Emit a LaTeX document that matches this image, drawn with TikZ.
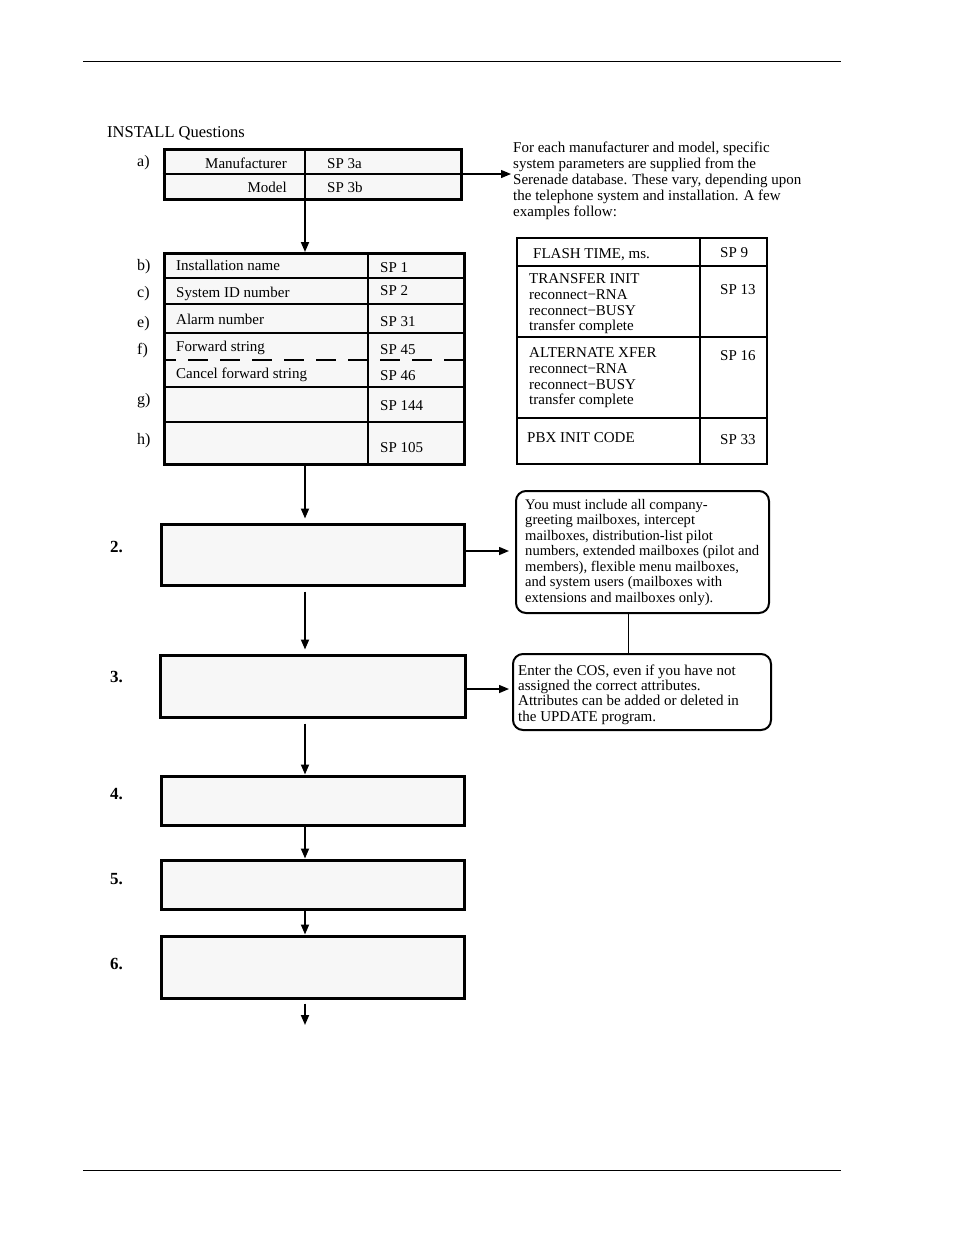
\documentclass[tikz,border=0pt]{standalone}
\usepackage{fontspec}
\setmainfont{Liberation Serif}
\usetikzlibrary{arrows.meta}
\definecolor{boxgray}{HTML}{F7F7F7}
\begin{document}
\begin{tikzpicture}[x=1pt,y=-1pt,
  every node/.style={font=\fontsize{15}{15.7}\selectfont, inner sep=0pt},
  bigbox/.style={draw, line width=3pt, fill=boxgray, minimum width=#1},
  arr/.style={-{Triangle[length=10pt,width=8pt]}, line width=1.8pt},
  lbl/.style={anchor=west, text height=10pt, text depth=3pt, yshift=-2.5pt},
  rlbl/.style={anchor=east, text height=10pt, text depth=3pt, yshift=-2.5pt},
  steplbl/.style={anchor=west, yshift=-2pt, font=\fontsize{17}{19}\bfseries\selectfont},
  note/.style={draw, line width=2pt, rounded corners=10pt, fill=white},
  para/.style={anchor=north west, align=left}
]
\useasboundingbox (0,0) rectangle (954,1235);
% page rules
\draw[line width=1pt] (83,61) -- (841,61);
\draw[line width=1pt] (83,1170) -- (841,1170);

\node[lbl, font=\fontsize{16.5}{18}\selectfont] (title) at (107,131) {INSTALL Questions};

% ---- box a
\node[bigbox=297pt, minimum height=50pt] (boxa) at (312.5,174) {};
\draw[line width=1.5pt] (boxa.west |- 0,174) -- (boxa.east |- 0,174);
\draw[line width=1.5pt] (305,149) -- (305,199);
\node[rlbl] (manu) at (287,162) {Manufacturer};
\node[rlbl] (model) at (287,186) {Model};
\node[lbl] (sp3a) at (327,162) {SP 3a};
\node[lbl] (sp3b) at (327,186) {SP 3b};
\node[lbl, font=\fontsize{16}{18}\selectfont] (la) at (137,160) {a)};

% right paragraph
\node[para, font=\fontsize{15}{16}\selectfont] (intro) at (513,141.5) {For each manufacturer and model, specific\\system parameters are supplied from the\\Serenade database. These vary, depending upon\\the telephone system and installation. A few\\examples follow:};
\coordinate (introarr) at (511,174);
\draw[arr, line width=1.2pt] (boxa.east |- 0,174) -- (introarr);

% ---- box b
\node[bigbox=300pt, minimum height=211pt] (boxb) at (314,358.5) {};
\draw[arr] (boxa.south -| 305,0) -- (305,252);
\foreach \yy in {278,304,333,387,422} \draw[line width=1.5pt] (164,\yy) -- (464,\yy);
\draw[line width=1.5pt, dash pattern=on 20pt off 12pt, dash phase=8pt] (164,360) -- (464,360);
\draw[line width=2pt] (368,253) -- (368,464);
\node[lbl] (t1) at (176,264) {Installation name};
\node[lbl] (t2) at (176,291) {System ID number};
\node[lbl] (t3) at (176,318) {Alarm number};
\node[lbl] (t4) at (176,345) {Forward string};
\node[lbl] (t5) at (176,372) {Cancel forward string};
\node[lbl] (s1) at (380,266) {SP 1};
\node[lbl] (s2) at (380,289) {SP 2};
\node[lbl] (s31) at (380,320) {SP 31};
\node[lbl] (s45) at (380,348) {SP 45};
\node[lbl] (s46) at (380,374) {SP 46};
\node[lbl] (s144) at (380,404) {SP 144};
\node[lbl] (s105) at (380,446) {SP 105};
\foreach \l/\yy in {b)/264, c)/291, e)/321, f)/348, g)/398, h)/438}
  \node[lbl, font=\fontsize{16}{18}\selectfont] at (137,\yy) {\l};

% ---- right table
\node[draw, line width=2pt, fill=white, minimum width=250pt, minimum height=226pt] (tab) at (642,351) {};
\draw[line width=1.8pt] (700,238) -- (700,464);
\foreach \yy in {266,337,418} \draw[line width=1.8pt] (517,\yy) -- (767,\yy);
\node[lbl] (ft) at (533,252) {FLASH TIME, ms.};
\node[lbl] (sp9) at (720,251) {SP 9};
\node[para] (ti) at (529,273.5) {TRANSFER INIT\\reconnect−RNA\\reconnect−BUSY\\transfer complete};
\node[lbl] (sp13) at (720,288) {SP 13};
\node[para] (ax) at (529,347.5) {ALTERNATE XFER\\reconnect−RNA\\reconnect−BUSY\\transfer complete};
\node[lbl] (sp16) at (720,354) {SP 16};
\node[lbl] (pbx) at (527,436) {PBX INIT CODE};
\node[lbl] (sp33) at (720,438) {SP 33};

% ---- steps
\node[bigbox=303pt, minimum height=61pt] (b2) at (312.5,554.5) {};
\node[bigbox=305pt, minimum height=62pt] (b3) at (312.5,686) {};
\node[bigbox=303pt, minimum height=49pt] (b4) at (312.5,800.5) {};
\node[bigbox=303pt, minimum height=49pt] (b5) at (312.5,884.5) {};
\node[bigbox=303pt, minimum height=62pt] (b6) at (312.5,967) {};
\node[steplbl] (n2) at (110,545) {2.};
\node[steplbl] (n3) at (110,675) {3.};
\node[steplbl] (n4) at (110,792) {4.};
\node[steplbl] (n5) at (110,877) {5.};
\node[steplbl] (n6) at (110,962) {6.};

\draw[arr] (boxb.south -| 305,0) -- (b2.north -| 305,0) [shorten >=4pt];
\draw[arr, shorten <=5pt, shorten >=4pt] (b2.south -| 305,0) -- (b3.north -| 305,0);
\draw[arr, shorten <=5pt] (b3.south -| 305,0) -- (b4.north -| 305,0);
\draw[arr] (b4.south -| 305,0) -- (b5.north -| 305,0);
\draw[arr] (b5.south -| 305,0) -- (b6.north -| 305,0);
\coordinate (endarr) at (305,1025);
\draw[arr, shorten <=4pt] (b6.south -| 305,0) -- (endarr);

% ---- notes
\node[note, minimum width=253pt, minimum height=122pt] (note1) at (642.5,552) {};
\node[para, font=\fontsize{14.6}{15.5}\selectfont] (note1t) at (525,498.8) {You must include all company-\\greeting mailboxes, intercept\\mailboxes, distribution-list pilot\\numbers, extended mailboxes (pilot and\\members), flexible menu mailboxes,\\and system users (mailboxes with\\extensions and mailboxes only).};
\node[note, minimum width=258pt, minimum height=76pt] (note2) at (642,692) {};
\node[para, font=\fontsize{15}{15.3}\selectfont] (note2t) at (518,664.6) {Enter the COS, even if you have not\\assigned the correct attributes.\\Attributes can be added or deleted in\\the UPDATE program.};
\draw[line width=1pt] (note1.south -| 628,0) -- (note2.north -| 628,0);

\draw[arr, line width=1.5pt] (b2.east |- 0,551) -- (note1.west |- 0,551) [shorten >=6pt];
\draw[arr, line width=1.5pt] (b3.east |- 0,689) -- (note2.west |- 0,689) [shorten >=3pt];
\end{tikzpicture}
\end{document}
